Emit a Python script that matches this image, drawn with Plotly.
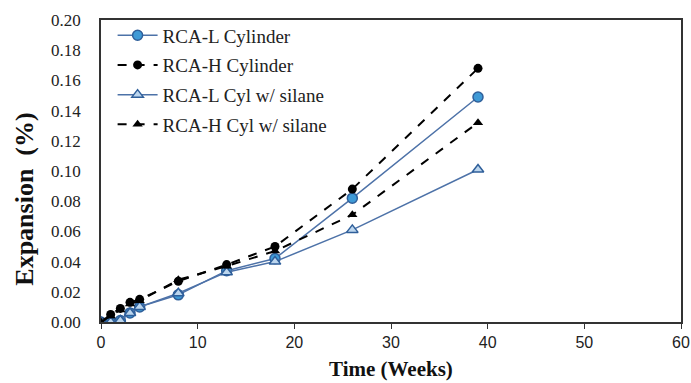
import plotly.graph_objects as go

weeks = [0, 1, 2, 3, 4, 8, 13, 18, 26, 39]
rcal_cyl = [0.000, 0.000, 0.001, 0.006, 0.010, 0.018, 0.034, 0.042, 0.082, 0.149]
rcah_cyl = [0.000, 0.005, 0.009, 0.013, 0.015, 0.027, 0.038, 0.050, 0.088, 0.168]
rcal_sil = [0.000, 0.000, 0.001, 0.006, 0.010, 0.019, 0.033, 0.040, 0.061, 0.101]
rcah_sil = [0.000, 0.004, 0.008, 0.012, 0.014, 0.028, 0.037, 0.047, 0.071, 0.132]
names = ["RCA-L Cylinder", "RCA-H Cylinder", "RCA-L Cyl w/ silane", "RCA-H Cyl w/ silane"]

BLUE_LINE = "#4d72a8"
BLUE_FILL = "#3f9ad6"
BLUE_EDGE = "#2f5f9a"

SERIF = "Liberation Serif, Times New Roman, serif"
SANS = "Liberation Sans, Arial, sans-serif"

fig = go.Figure()
fig.add_trace(go.Scatter(x=weeks, y=rcal_cyl, name=names[0], mode="lines+markers", legendgroup="a",
    line=dict(color=BLUE_LINE, width=1.5),
    marker=dict(symbol="circle", size=10, color=BLUE_FILL, line=dict(color=BLUE_EDGE, width=1.5))))
fig.add_trace(go.Scatter(x=weeks, y=rcah_cyl, name=names[1], mode="lines+markers", legendgroup="b",
    line=dict(color="black", width=2, dash="dash"),
    marker=dict(symbol="circle", size=9, color="black")))
fig.add_trace(go.Scatter(x=weeks, y=rcal_sil, name=names[2], mode="lines+markers", legendgroup="c",
    line=dict(color=BLUE_LINE, width=1.5),
    marker=dict(symbol="triangle-up", size=10, color="#bcd6ee", line=dict(color=BLUE_EDGE, width=1.5))))
fig.add_trace(go.Scatter(x=weeks, y=rcah_sil, name=names[3], mode="lines+markers", legendgroup="d",
    line=dict(color="black", width=2, dash="dash"),
    marker=dict(symbol="triangle-up", size=9, color="black")))

fig.update_layout(
    width=691, height=383,
    margin=dict(l=101, r=10, t=20, b=61, autoexpand=False),
    paper_bgcolor="white", plot_bgcolor="white",
    font=dict(family=SERIF, size=15, color="#222"),
    showlegend=True,
    legend=dict(x=0.02, y=1.012, xanchor="left", yanchor="top", bgcolor="rgba(0,0,0,0)",
                font=dict(family=SERIF, size=19, color="#222"), tracegroupgap=2, itemwidth=40),
    xaxis=dict(range=[0, 60], dtick=10, showgrid=False, zeroline=False, automargin=False,
               showline=True, linecolor="#333", linewidth=1.5, mirror=True,
               ticks="outside", ticklen=5, tickcolor="#333",
               tickfont=dict(family=SANS, size=16, color="#222")),
    yaxis=dict(range=[0, 0.2], dtick=0.02, tickformat=".2f", showgrid=False, zeroline=False,
               automargin=False, showline=True, linecolor="#333", linewidth=1.5, mirror=True,
               ticks="", ticklabelstandoff=15, tickfont=dict(family=SERIF, size=17, color="#222")),
    annotations=[
        dict(text="<b>Time (Weeks)</b>", x=0.5, y=(322 - 369) / 302, xref="paper", yref="paper",
             xanchor="center", yanchor="middle", showarrow=False,
             font=dict(family=SERIF, size=21, color="#111")),
        dict(text="<b>Expansion  (%)</b>", x=-0.131, y=0.405, xref="paper", yref="paper",
             xanchor="center", yanchor="middle", showarrow=False, textangle=-90,
             font=dict(family=SERIF, size=26, color="#111")),
    ],
)
fig.write_html("out.html")
